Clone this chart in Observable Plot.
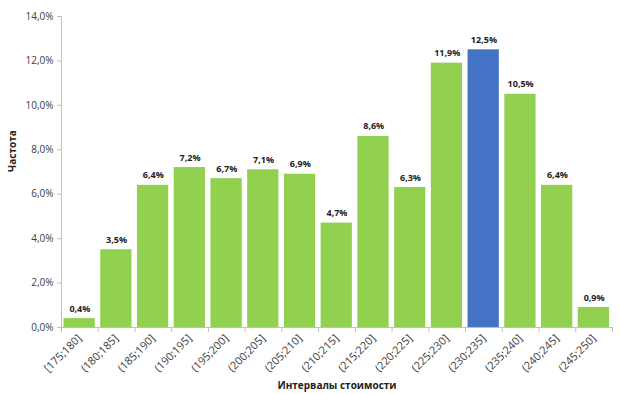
<!DOCTYPE html>
<html><head><meta charset="utf-8">
<script src="https://cdn.jsdelivr.net/npm/d3@7"></script>
<script src="https://cdn.jsdelivr.net/npm/@observablehq/plot@0.6"></script>
<style>
body{margin:0;background:#fff;}
#chart svg{font-family:"Open Sans",sans-serif;}
</style>
</head><body><div id="chart"></div>
<script>
const categories = ["[175;180]","(180;185]","(185;190]","(190;195]","(195;200]","(200;205]","(205;210]","(210;215]","(215;220]","(220;225]","(225;230]","(230;235]","(235;240]","(240;245]","(245;250]"];
const values = [0.004,0.035,0.064,0.072,0.067,0.071,0.069,0.047,0.086,0.063,0.119,0.125,0.105,0.064,0.009];
const highlight = "(230;235]";
const yTicks = [0,0.02,0.04,0.06,0.08,0.10,0.12,0.14];

const data = categories.map((c,i)=>({c, i, v: values[i]}));
const pct = v => (v*100).toFixed(1).replace(".", ",") + "%";

const chart = Plot.plot({
  width: 620, height: 394,
  marginLeft: 61, marginRight: 8, marginTop: 16, marginBottom: 67,
  style: {fontFamily: "'Open Sans', sans-serif", fontSize: "10px", color: "#404040", background: "#fff"},
  x: {type: "linear", domain: [0, categories.length]},
  y: {domain: [0, 0.14]},
  marks: [
    Plot.rectY(data, {x1: "i", x2: d => d.i + 1, y: "v", insetLeft: 2.5, insetRight: 3,
      fill: d => d.c === highlight ? "#4472C4" : "#92D050"}),
    Plot.text(data, {x: d => d.i + 0.5, y: "v", text: d => pct(d.v), lineAnchor: "bottom", dy: -7,
      fontWeight: "bold", fontSize: 9, fill: "#222"}),
    Plot.axisY({ticks: yTicks, tickFormat: pct, tickSize: 4, stroke: "#bfbfbf", fill: "#404040", label: null, tickPadding: 4}),
    Plot.ruleX([0], {stroke: "#bfbfbf"}),
    Plot.ruleY([0], {stroke: "#bfbfbf"}),
    Plot.axisX({ticks: d3.range(0, categories.length + 1), tickFormat: () => "", tickSize: 5, stroke: "#bfbfbf", label: null}),
    Plot.axisX({ticks: categories.map((c,i)=>i+0.5), tickFormat: t => categories[Math.round(t-0.5)],
      tickSize: 0, tickRotate: -45, tickPadding: 9, fontSize: 11, fill: "#404040", label: null}),
    Plot.text(["Интервалы стоимости"], {frameAnchor: "bottom", dy: 61, fontWeight: "bold", fontSize: 10, fill: "#222"}),
    Plot.text(["Частота"], {frameAnchor: "left", dx: -49, rotate: -90, fontWeight: "bold", fontSize: 10, fill: "#222"})
  ]
});
document.getElementById("chart").appendChild(chart);
</script>
</body></html>
